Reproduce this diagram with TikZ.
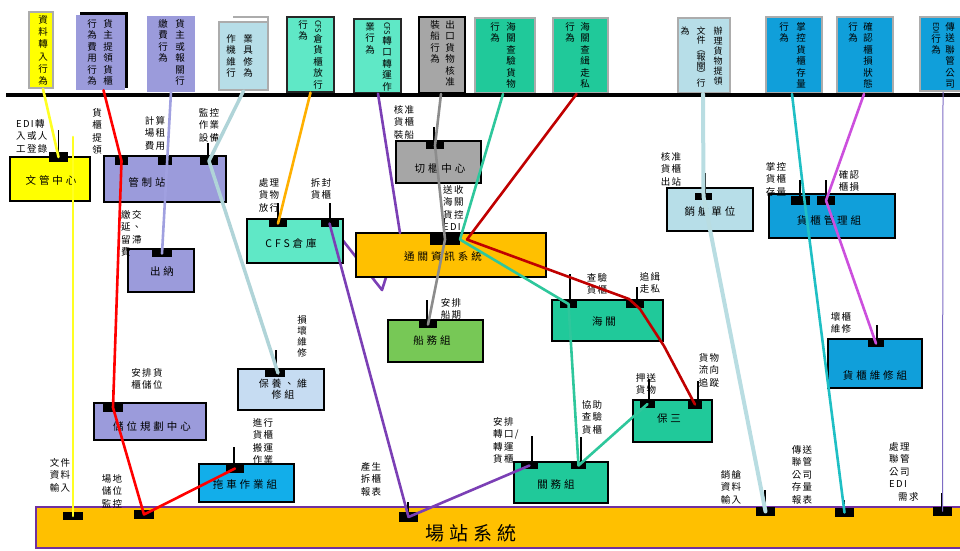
\documentclass[tikz,border=0pt]{standalone}
\usepackage{fontspec}
\usepackage{graphicx}
\setmainfont{Noto Sans CJK TC}
\newfontfamily\lblf[LetterSpace=14]{Noto Sans CJK TC}
\newfontfamily\boxf[LetterSpace=28]{Noto Sans CJK TC}
\newfontfamily\bigf[LetterSpace=25]{Noto Sans CJK TC}
\usetikzlibrary{fit}
\pgfdeclarelayer{bg}
\pgfsetlayers{bg,main}
\definecolor{cYel}{HTML}{FFFF00}
\definecolor{cPur}{HTML}{9B9BDB}
\definecolor{cLB}{HTML}{B7DEE8}
\definecolor{cAqua}{HTML}{5FE8C6}
\definecolor{cGry}{HTML}{A6A6A6}
\definecolor{cGrn}{HTML}{20C99A}
\definecolor{cBlu}{HTML}{109FDA}
\definecolor{cBlu2}{HTML}{12AEEA}
\definecolor{cOrg}{HTML}{FFC000}
\definecolor{cShip}{HTML}{77C856}
\definecolor{cBY}{HTML}{C6DCF2}
\definecolor{cVio}{HTML}{7030A0}
\definecolor{lYel}{HTML}{FFFF22}
\definecolor{lRed}{HTML}{FF0000}
\definecolor{lLav}{HTML}{A0A0E0}
\definecolor{lLBG}{HTML}{B0D4D8}
\definecolor{lOrg}{HTML}{FFB000}
\definecolor{lVio}{HTML}{7B3FB5}
\definecolor{lGry}{HTML}{8C8C8C}
\definecolor{lGrn}{HTML}{2EC79C}
\definecolor{lDRed}{HTML}{C00000}
\definecolor{lPC}{HTML}{B9DDE2}
\definecolor{lTurq}{HTML}{1FBFC4}
\definecolor{lMag}{HTML}{CC4FDD}
\definecolor{lThin}{HTML}{7E6CC4}
\newcommand{\rotlat}[1]{\rotatebox[origin=c]{-90}{\fontsize{7.5}{7.5}\selectfont #1}}
\begin{document}
\begin{tikzpicture}[x=1pt,y=-1pt,
  tb/.style={rectangle, inner sep=0, line width=2pt, draw=gray!65},
  mb/.style={rectangle, inner sep=0, line width=2.6pt, draw=black},
  port/.style={rectangle, fill=black, inner sep=0, minimum width=18pt, minimum height=8pt},
  stub/.style={line width=1.8pt, black},
  lbl/.style={font=\lblf\fontsize{9.5}{12.5}\selectfont, align=center, anchor=north, inner sep=0},
  btxt/.style={font=\boxf\fontsize{10.5}{13}\selectfont, align=center, inner sep=0},
  vt/.style={font=\fontsize{9.5}{11.5}\selectfont, align=center, anchor=north, inner sep=0},
  conn/.style={line width=2.6pt, line join=round, line cap=round}]
\useasboundingbox (0,0) rectangle (960,550);

% ---------- top boxes ----------
\node[tb, fill=cYel, fit={(29,12) (53,88)}] (t1) {};
\node[fill=black, inner sep=0, fit={(80,12) (128,88)}] (t2s) {};
\node[fill=cPur, inner sep=0, fit={(76,15) (125,90)}] (t2) {};
\node[fill=cPur, inner sep=0, fit={(147,16) (195,92)}] (t3) {};
\draw[gray!65, line width=1.5pt] (233,17) -- (268,17) -- (268,22);
\node[tb, fill=cLB, fit={(219,22) (268,90)}] (t4) {};
\node[tb, draw=black!85, line width=1.3pt, fill=cAqua, fit={(287,17) (334,92)}] (t5) {};
\node[tb, draw=black!85, line width=1.3pt, fill=cAqua, fit={(354,19) (401,93)}] (t6) {};
\node[tb, draw=black, fill=cGry, fit={(419,17) (465,93)}] (t7) {};
\node[tb, fill=cGrn, fit={(475,18) (535,93)}] (t8) {};
\node[tb, fill=cGrn, fit={(553,18) (608,93)}] (t9) {};
\node[tb, fill=cLB, fit={(678,18) (730,93)}] (t10) {};
\node[tb, fill=cBlu, fit={(766,17) (822,93)}] (t11) {};
\node[tb, fill=cBlu, fit={(837,17) (893,93)}] (t12) {};
\node[tb, fill=cBlu, fit={(920,17) (966,91)}] (t13) {};

\node[vt, font=\fontsize{9.5}{12.3}\selectfont] (t1a) at (43,15) {資\\料\\轉\\入\\行\\為};
\node[vt] (t2a) at (108,19) {貨\\主\\提\\領\\貨\\櫃};
\node[vt] (t2b) at (92,19) {行\\為\\費\\用\\行\\為};
\node[vt] (t3a) at (180,19) {貨\\主\\或\\報\\關\\行};
\node[vt] (t3b) at (163,19) {繳\\費\\行\\為};
\node[vt] (t4a) at (231,34) {作\\機\\維\\行};
\node[vt] (t4b) at (248,34) {業\\具\\修\\為};
\node[vt] (t5a) at (318,20) {\rotlat{CFS}\\倉\\貨\\櫃\\放\\行};
\node[vt] (t5b) at (303,20) {行\\為};
\node[vt] (t6a) at (387,22) {\rotlat{CFS}\\轉\\口\\轉\\運\\作};
\node[vt] (t6b) at (370,22) {業\\行\\為};
\node[vt] (t7a) at (450,20) {出\\口\\貨\\物\\核\\准};
\node[vt] (t7b) at (435,20) {裝\\船\\行\\為};
\node[vt] (t8a) at (511,22) {海\\關\\查\\驗\\貨\\物};
\node[vt] (t8b) at (495,22) {行\\為};
\node[vt] (t9a) at (585,22) {海\\關\\查\\緝\\走\\私};
\node[vt] (t9b) at (570,22) {行\\為};
\node[vt, font=\fontsize{9}{10}\selectfont] (t10a) at (718,27) {辦\\理\\貨\\物\\提\\領};
\node[vt, font=\fontsize{9}{8.6}\selectfont] (t10b) at (701,27) {文\\件\\︵\\報\\關\\︶\\行};
\node[vt, font=\fontsize{9}{10}\selectfont] (t10c) at (685,27) {為};
\node[vt] (t11a) at (801,22) {掌\\控\\貨\\櫃\\存\\量};
\node[vt] (t11b) at (784,22) {行\\為};
\node[vt] (t12a) at (868,22) {確\\認\\櫃\\損\\狀\\態};
\node[vt] (t12b) at (853,22) {行\\為};
\node[vt] (t13a) at (950,22) {傳\\送\\聯\\管\\公\\司};
\node[vt] (t13b) at (936,22) {\rotlat{EDI}\\行\\為};

\draw[line width=4pt] (6,95) -- (960,95);

% ---------- middle boxes ----------
\node[mb, fill=cYel, fit={(10,157) (90,201)}] (wg) {};
\node[mb, fill=cPur, fit={(104,156) (226,202)}] (gzz) {};
\node[mb, fill=cPur, fit={(128,249) (194,292)}] (cn) {};
\node[mb, fill=cAqua, fit={(247,219) (343,263)}] (cfs) {};
\node[mb, fill=cGry, fit={(396,141) (481,183)}] (qg) {};
\node[mb, fill=cOrg, fit={(356,233) (546,277)}] (tg) {};
\node[mb, fill=cShip, fit={(388,320) (483,362)}] (cw) {};
\node[mb, fill=cGrn, fit={(552,300) (663,341)}] (hg) {};
\node[mb, fill=cGrn, fit={(633,400) (712,442)}] (bs) {};
\node[mb, fill=cBlu, fit={(828,339) (922,388)}] (wx) {};
\node[mb, fill=cBlu, fit={(769,194) (895,238)}] (gl) {};
\node[mb, fill=cLB, fit={(667,188) (753,231)}] (xc) {};
\node[mb, fill=cBY, fit={(238,369) (324,410)}] (by) {};
\node[mb, fill=cPur, fit={(94,403) (206,440)}] (cw2) {};
\node[mb, fill=cBlu2, fit={(199,464) (294,502)}] (tc) {};
\node[mb, fill=cGrn, fit={(514,462) (608,503)}] (gw) {};
\node[rectangle, inner sep=0, line width=2pt, draw=cVio, fill=cOrg, fit={(36,507) (964,548)}] (cz) {};

\node[btxt] (wgT) at (51,180) {文管中心};
\node[btxt] (gzzT) at (147,182) {管制站};
\node[btxt] (cnT) at (162,271) {出納};
\node[btxt] (cfsT) at (291,243) {CFS倉庫};
\node[btxt] (qgT) at (440,168) {切櫃中心};
\node[btxt] (tgT) at (443,257) {通關資訊系統};
\node[btxt] (cwT) at (432,341) {船務組};
\node[btxt] (hgT) at (604,321) {海關};
\node[btxt] (bsT) at (669,419) {保三};
\node[btxt] (wxT) at (875,375) {貨櫃維修組};
\node[btxt] (glT) at (829,220) {貨櫃管理組};
\node[btxt] (xcT) at (710,211) {銷艙單位};
\node[btxt, font=\boxf\fontsize{10}{11.5}\selectfont] (byT) at (283,389) {保養、維\\修組};
\node[btxt] (cw2T) at (152,426) {儲位規劃中心};
\node[btxt] (tcT) at (245,484) {拖車作業組};
\node[btxt] (gwT) at (556,484) {關務組};
\node[font=\bigf\fontsize{19}{22}\selectfont, inner sep=0] (czT) at (471,533) {場站系統};

% ---------- ports ----------
\node[port, minimum width=19pt, minimum height=10pt] (wg-p) at (58.5,157) {};
\node[port, minimum width=13pt] (gzz-p1) at (121.5,161) {};
\node[port, minimum width=14pt] (gzz-p2) at (165,161) {};
\node[port] (gzz-p3) at (209,161) {};
\node[port, minimum width=20pt, minimum height=7pt] (cn-p) at (162,253.5) {};
\node[port, minimum height=7pt] (cfs-p1) at (278,223.5) {};
\node[port, minimum height=7pt] (cfs-p2) at (329.5,223.5) {};
\node[port, minimum height=7pt] (qg-p) at (435,145.5) {};
\node[port, minimum width=30pt, minimum height=11pt] (tg-p) at (445,239.5) {};
\node[port, minimum height=7pt] (cw-p) at (428,324.5) {};
\node[port, minimum width=17pt, minimum height=7pt] (hg-p1) at (568.5,304) {};
\node[port, minimum height=7pt] (hg-p2) at (635,304) {};
\node[port, minimum width=15pt, minimum height=7pt] (bs-p1) at (647.5,404) {};
\node[port, minimum width=14pt] (bs-p2) at (695,404.5) {};
\node[port, minimum width=16pt, minimum height=7pt] (wx-p) at (876,343.5) {};
\node[port, minimum width=19pt, minimum height=9pt] (gl-p1) at (800.5,200.5) {};
\node[port, minimum height=9pt] (gl-p2) at (826,200.5) {};
\node[port, minimum width=17pt, minimum height=7pt] (xc-p) at (703.5,196.5) {};
\node[port, minimum width=20pt] (by-p) at (275,373) {};
\node[port, minimum width=20pt, minimum height=9pt] (cw2-p) at (113,407.5) {};
\node[port, minimum height=9pt] (tc-p) at (235,468.5) {};
\node[port, minimum width=17pt, minimum height=7pt] (gw-p1) at (529.5,465.5) {};
\node[port, minimum width=15pt, minimum height=7pt] (gw-p2) at (578.5,465.5) {};
\node[port, minimum width=20pt] (cz-p1) at (73,516) {};
\node[port, minimum width=20pt, minimum height=9pt] (cz-p2) at (144,514.5) {};
\node[port, minimum width=19pt, minimum height=10pt] (cz-p3) at (408.5,517) {};
\node[port, minimum width=19pt, minimum height=9pt] (cz-p4) at (765.5,511.5) {};
\node[port, minimum width=19pt, minimum height=9pt] (cz-p5) at (844.5,512.5) {};
\node[port, minimum width=19pt, minimum height=9pt] (cz-p6) at (942.5,511.5) {};

% ---------- stubs ----------
\draw[stub] (wg-p.north) -- ++(0,-22);
\draw[stub] ([xshift=-1pt]gzz-p3.north) -- ++(0,-14);
\draw[stub] (cfs-p1.north) -- ++(0,-17);
\draw[stub] ([xshift=0.5pt]cfs-p2.north) -- ++(0,-17);
\draw[stub] ([xshift=-1pt]qg-p.north) -- ++(0,-15);
\draw[stub] ([xshift=-1pt]tg-p.north) -- ++(0,-16);
\draw[stub] ([xshift=-1pt]cw-p.north) -- ++(0,-21);
\draw[stub] ([xshift=1.5pt]hg-p1.north) -- ++(0,-26);
\draw[stub] ([xshift=2pt]hg-p2.north) -- ++(0,-13);
\draw[stub] ([xshift=1.5pt]bs-p1.north) -- ++(0,-21);
\draw[stub] ([xshift=3pt]bs-p2.north) -- ++(0,-19);
\draw[stub] ([xshift=1pt]wx-p.north) -- ++(0,-15);
\draw[stub] ([xshift=-0.5pt]gl-p1.north) -- ++(0,-16);
\draw[stub] (gl-p2.north) -- ++(0,-16);
\draw[stub] ([xshift=1.5pt]xc-p.north) -- ++(0,-20);
\draw[stub] ([xshift=1pt]by-p.north) -- ++(0,-19);
\draw[stub] (cw2-p.north) -- ++(0,-13);
\draw[stub] ([xshift=-1pt]tc-p.north) -- ++(0,-17);
\draw[stub] ([xshift=2.5pt]gw-p1.north) -- ++(0,-26);
\draw[stub] ([xshift=2.5pt]gw-p2.north) -- ++(0,-25);
\draw[stub] ([xshift=-0.5pt]cz-p3.north) -- ++(0,-10);
\draw[stub] ([xshift=-0.5pt]cz-p4.north) -- ++(0,-17);
\draw[stub] ([xshift=-0.5pt]cz-p5.north) -- ++(0,-8);
\draw[stub] ([xshift=-0.5pt]cz-p6.north) -- ++(0,-14);

% ---------- labels ----------
\node[lbl, anchor=north west, align=left] (L1) at (16,119) {EDI轉\\入或人\\工登錄};
\node[lbl] (L2) at (97,108) {貨\\櫃\\提\\領};
\node[lbl] (L3) at (155,116) {計算\\場租\\費用};
\node[lbl] (L4) at (209,108) {監控\\作業\\設備};
\node[lbl, anchor=north west, align=left] (L5) at (121,210) {繳交\\延、\\留滯\\費};
\node[lbl] (L6) at (269,178) {處理\\貨物\\放行};
\node[lbl] (L7) at (321,178) {拆封\\貨櫃};
\node[lbl] (L8) at (404,105) {核准\\貨櫃\\裝船};
\node[lbl, anchor=north west, align=left] (L9) at (443,185) {送收\\海關\\貨控\\EDI};
\node[lbl] (L10) at (451,298) {安排\\船期};
\node[lbl] (L11) at (597,273) {查驗\\貨櫃};
\node[lbl] (L12) at (650,272) {追緝\\走私};
\node[lbl] (L13) at (646,373) {押送\\貨物};
\node[lbl] (L14) at (709,353) {貨物\\流向\\追蹤};
\node[lbl] (L15) at (841,312) {壞櫃\\維修};
\node[lbl] (L16) at (776,162) {掌控\\貨櫃\\存量};
\node[lbl] (L17) at (849,170) {確認\\櫃損};
\node[lbl] (L18) at (671,152) {核准\\貨櫃\\出站};
\node[lbl, font=\lblf\fontsize{9.5}{11}\selectfont] (L19) at (302,315) {損\\壞\\維\\修};
\node[lbl] (L20) at (147,368) {安排貨\\櫃儲位};
\node[lbl] (L21) at (263,418) {進行\\貨櫃\\搬運\\作業};
\node[lbl] (L22) at (60,458) {文件\\資料\\輸入};
\node[lbl] (L23) at (112,474) {場地\\儲位\\監控};
\node[lbl] (L24) at (371,462) {產生\\拆櫃\\報表};
\node[lbl, anchor=north west, align=left] (L25) at (493,417) {安排\\轉口/\\轉運\\貨櫃};
\node[lbl] (L26) at (592,400) {協助\\查驗\\貨櫃};
\node[lbl] (L27) at (731,470) {銷艙\\資料\\輸入};
\node[lbl] (L28) at (802,445) {傳送\\聯管\\公司\\存量\\報表};
\node[lbl, anchor=north west, align=left] (L29) at (889,442) {處理\\聯管\\公司\\EDI\\\hspace{9pt}需求};

% ---------- connectors ----------
\coordinate (v1) at (400,233);
\coordinate (v2) at (382,290);
\coordinate (ys) at (73,137);
\coordinate (r1) at (629,299);
\coordinate (r2) at (640,309);
\coordinate (r3) at (664,346);

\begin{pgfonlayer}{bg}
\draw[conn, lVio] (v1) -- (v2) -- (cfs-p2.center);
\end{pgfonlayer}
\draw[conn, lVio] ([xshift=0.5pt]t6.south) -- (v1);
\draw[conn, lVio] (cfs-p2.center) -- (cz-p3.center) -- (gw-p1.center);

\draw[conn, lYel] ([xshift=2pt]t1.south) -- (wg-p.center);
\draw[conn, lYel] (ys) -- (cz-p1.center);
\draw[conn, lRed] ([xshift=3pt]t2.south) -- (gzz-p1.center) -- (cw2-p.center) -- (cz-p2.center) -- (tc-p.center);
\draw[conn, lLav] (t3.south) -- (cn-p.center);
\draw[conn, lLBG, line width=3.5pt] (t4.south) -- (gzz-p3.center) -- ([xshift=3pt]by-p.center);
\draw[conn, lOrg] (t5.south) -- (cfs-p1.center);
\draw[conn, lGry] ([xshift=-1pt]t7.south) -- (qg-p.center) -- (tg-p.center) -- (cw-p.center);
\draw[conn, lGrn] ([xshift=-2pt]t8.south) -- ([xshift=15pt]tg-p.center) -- (hg-p1.center) -- (gw-p2.center) -- (bs-p1.center);
\draw[conn, lDRed] ([xshift=-4pt]t9.south) -- ([xshift=22pt]tg-p.center) -- (r1) -- (r2) -- (r3) -- (bs-p2.center);
\draw[conn, lPC, line width=4pt] ([xshift=-1pt]t10.south) -- (xc-p.center) -- (cz-p4.center);
\draw[conn, lTurq] ([xshift=-2pt]t11.south) -- ([xshift=4pt]gl-p1.center) -- (cz-p5.center);
\draw[conn, lMag] ([xshift=-1pt]t12.south) -- (gl-p2.center) -- (wx-p.center);
\draw[lThin, line width=1pt] (t13.south) -- (cz-p6.center);
\end{tikzpicture}
\end{document}
